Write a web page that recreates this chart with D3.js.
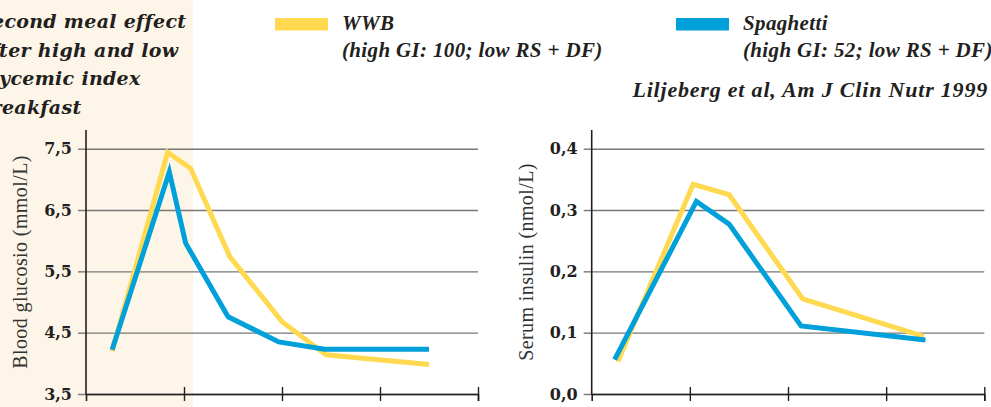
<!DOCTYPE html>
<html>
<head>
<meta charset="utf-8">
<script src="https://cdn.jsdelivr.net/npm/d3@7"></script>
<style>
  html, body { margin: 0; padding: 0; background: #fff; }
  svg { display: block; }
</style>
</head>
<body>
<div id="chart"></div>
<script>
// series data (time in minutes, axis ticks every 60)
const seriesNames = ["WWB", "Spaghetti"]
const seriesNotes = ["(high GI: 100; low RS + DF)", "(high GI: 52; low RS + DF)"]
const seriesColors = ["#ffd94f", "#00a0da"]

const glucoseTimeWWB = [16, 50, 64, 88, 120, 147, 210]
const glucoseWWB = [4.2, 7.44, 7.18, 5.74, 4.68, 4.14, 3.98]
const glucoseTimeSpaghetti = [16, 51, 61, 87, 118, 146, 210]
const glucoseSpaghetti = [4.22, 7.12, 5.96, 4.76, 4.35, 4.23, 4.23]

const insulinTimeWWB = [16, 62, 84, 129, 203]
const insulinWWB = [0.053, 0.342, 0.325, 0.155, 0.094]
const insulinTimeSpaghetti = [14, 64, 84, 128, 204]
const insulinSpaghetti = [0.056, 0.314, 0.277, 0.111, 0.088]

const glucoseTicks = [3.5, 4.5, 5.5, 6.5, 7.5]
const insulinTicks = [0.0, 0.1, 0.2, 0.3, 0.4]
const timeTicks = [60, 120, 180, 240]

const titleLines = ["Second meal effect", "after high and low", "glycemic index", "breakfast"]
const sourceText = "Liljeberg et al, Am J Clin Nutr 1999"

const width = 991
const height = 407

const svg = d3.select("#chart").append("svg")
    .attr("width", width)
    .attr("height", height)
    .attr("viewBox", [0, 0, width, height])

// cream side panel
svg.append("rect")
    .attr("x", 0).attr("y", 0)
    .attr("width", 193).attr("height", height)
    .attr("fill", "#fdf6e8")

// title, cut by the left edge like in the scan
svg.append("g")
    .selectAll("text")
    .data(titleLines)
    .join("text")
    .attr("x", -22)
    .attr("y", (d, i) => 28 + i * 28.5)
    .attr("font-family", "DejaVu Serif")
    .attr("font-weight", "bold")
    .attr("font-style", "italic")
    .attr("font-size", 19)
    .attr("letter-spacing", 0.3)
    .attr("fill", "#231f20")
    .text(d => d)

// legend
const legendX = [275, 676]
const legend = svg.append("g")
seriesNames.forEach((name, i) => {
    legend.append("rect")
        .attr("x", legendX[i]).attr("y", 18)
        .attr("width", 53).attr("height", 12.5)
        .attr("fill", seriesColors[i])
    const t = legend.append("text")
        .attr("font-family", "Liberation Serif")
        .attr("font-style", "italic")
        .attr("font-weight", "bold")
        .attr("font-size", 21)
        .attr("letter-spacing", 0.35)
        .attr("fill", "#231f20")
    t.append("tspan").attr("x", legendX[i] + 67).attr("y", 30).text(name)
    t.append("tspan").attr("x", legendX[i] + 67).attr("y", 57).text(seriesNotes[i])
})
svg.append("text")
    .attr("x", 988)
    .attr("y", 97)
    .attr("text-anchor", "end")
    .attr("font-family", "Liberation Serif")
    .attr("font-style", "italic")
    .attr("font-weight", "bold")
    .attr("font-size", 22)
    .attr("letter-spacing", 0.8)
    .attr("fill", "#231f20")
    .text(sourceText)

function drawPanel(opt) {
    const x = d3.scaleLinear([0, 240], [opt.left, opt.right])
    const y = d3.scaleLinear(opt.yDomain, [394, 148.7])
    const g = svg.append("g")

    // y ticks + grid
    const yAxis = d3.axisLeft(y)
        .tickValues(opt.ticks)
        .tickSize(8)
        .tickPadding(6)
        .tickFormat(d => d3.format(".1f")(d).replace(".", ","))
    g.append("g")
        .attr("transform", `translate(${opt.left},0)`)
        .call(yAxis)
        .call(a => a.select(".domain").remove())
        .call(a => a.selectAll(".tick line")
            .attr("stroke", "#777")
            .attr("stroke-width", 1.4))
        .call(a => a.selectAll(".tick line").clone()
            .attr("x2", opt.right - opt.left)
            .attr("stroke", "#777")
            .attr("stroke-width", 1.4))
        .call(a => a.selectAll(".tick text")
            .attr("font-family", "DejaVu Serif")
            .attr("font-weight", "bold")
            .attr("font-size", 16)
            .attr("fill", "#231f20"))

    // x axis, ticks cross the line
    const xAxis = d3.axisBottom(x)
        .tickValues(timeTicks)
        .tickSizeOuter(0)
        .tickSize(7)
        .tickFormat("")
    g.append("g")
        .attr("transform", "translate(0,394)")
        .call(xAxis)
        .call(a => a.select(".domain").attr("stroke", "#231f20").attr("stroke-width", 1.6))
        .call(a => a.selectAll(".tick line")
            .attr("y1", -7)
            .attr("stroke", "#231f20")
            .attr("stroke-width", 1.4))

    // y axis line
    g.append("line")
        .attr("x1", opt.left).attr("x2", opt.left)
        .attr("y1", 130).attr("y2", 394.8)
        .attr("stroke", "#231f20")
        .attr("stroke-width", 1.6)

    // axis title
    g.append("text")
        .attr("transform", `translate(${opt.labelX},262) rotate(-90)`)
        .attr("text-anchor", "middle")
        .attr("font-family", "Liberation Serif")
        .attr("font-size", 20)
        .attr("letter-spacing", 0.4)
        .attr("fill", "#333")
        .text(opt.label)

    const line = d3.line()
        .x(d => x(d[0]))
        .y(d => y(d[1]))
    opt.series.forEach((s, i) => {
        g.append("path")
            .datum(d3.zip(s.t, s.v))
            .attr("d", line)
            .attr("fill", "none")
            .attr("stroke", seriesColors[i])
            .attr("stroke-width", 5)
            .attr("stroke-linejoin", "miter")
    })
}

drawPanel({
    left: 86, right: 478, labelX: 27,
    yDomain: [3.5, 7.5], ticks: glucoseTicks,
    label: "Blood glucosio (mmol/L)",
    series: [
        { t: glucoseTimeWWB, v: glucoseWWB },
        { t: glucoseTimeSpaghetti, v: glucoseSpaghetti }
    ]
})

drawPanel({
    left: 591.7, right: 984.3, labelX: 533,
    yDomain: [0, 0.4], ticks: insulinTicks,
    label: "Serum insulin (nmol/L)",
    series: [
        { t: insulinTimeWWB, v: insulinWWB },
        { t: insulinTimeSpaghetti, v: insulinSpaghetti }
    ]
})
</script>
</body>
</html>
